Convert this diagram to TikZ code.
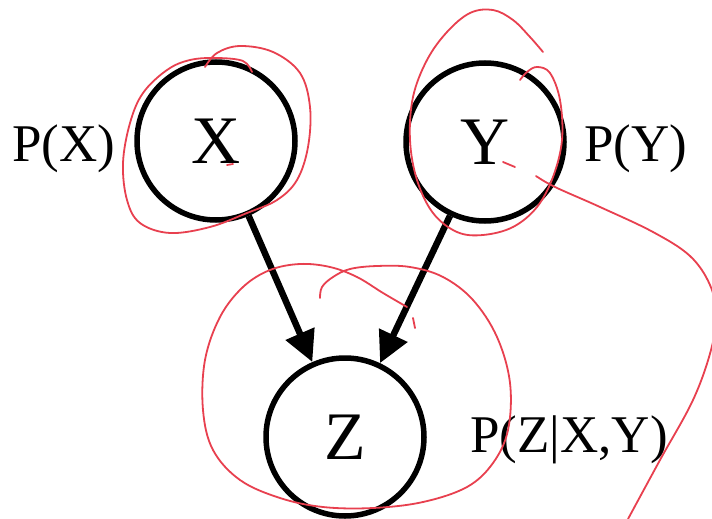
\documentclass[tikz,border=0pt]{standalone}
\usepackage{fontspec}
\setmainfont{Liberation Serif}
\usetikzlibrary{arrows.meta}
\definecolor{ink}{HTML}{000000}
\definecolor{pen}{HTML}{E8404F}
\tikzset{
  var/.style={circle,draw=ink,line width=5.5pt,minimum size=158pt,inner sep=0pt,font=\fontsize{68}{74}\selectfont},
  prob/.style={font=\fontsize{53}{58}\selectfont,inner sep=0pt,anchor=base},
  arr/.style={-{Triangle[length=31pt,width=30pt]},draw=ink,line width=6.5pt},
  scribble/.style={draw=pen,line width=1.8pt,line cap=round,line join=round}
}
\begin{document}
\begin{tikzpicture}[x=1pt,y=-1pt]
\useasboundingbox (0,0) rectangle (712,519);
\fill[white] (0,0) rectangle (712,519);
% variables and their distributions
\node[var] (X) at (216,141) {X};
\node[var] (Y) at (485,142) {Y};
\node[var] (Z) at (345,437) {Z};
\node[prob] (PX) at (64,161) {P(X)};
\node[prob] (PY) at (636,161) {P(Y)};
\node[prob] (PZ) at (569,452) {P(Z|X,Y)};
\draw[arr] (X) -- (Z);
\draw[arr] (Y) -- (Z);
% red pen marks
\draw[scribble] plot[smooth,tension=0.6] coordinates {(205,67) (217,53) (240,46) (273,52) (300,73) (310,107) (308,147) (297,180) (277,200) (247,213) (210,227) (170,233) (140,223) (127,200) (123,163) (130,123) (143,93) (167,70) (190,60) (217,58) (243,61) (252,72)};
\draw[scribble] (227,165) -- (233,164);
\draw[scribble] plot[smooth,tension=0.6] coordinates {(543,52) (530,37) (513,20) (493,10) (470,13) (447,32) (427,60) (413,97) (410,140) (417,180) (433,213) (457,232) (483,235) (513,227) (537,207) (553,177) (562,140) (560,100) (550,73) (537,67) (527,72) (520,80)};
\draw[scribble] (503,162) -- (515,167);
\draw[scribble] plot[smooth,tension=0.6] coordinates {(536,176) (555,187) (600,207) (653,232) (690,256) (710,285) (716,315) (711,350) (693,400) (660,460) (628,519)};
\draw[scribble] plot[smooth,tension=0.6] coordinates {(320,298) (322,287) (333,277) (350,269) (377,266) (410,267) (443,277) (473,300) (497,337) (510,383) (508,430) (493,463) (467,487) (423,502) (373,508) (323,507) (280,498) (240,480) (213,450) (203,410) (205,360) (220,317) (243,287) (270,270) (300,264) (330,267) (357,277) (383,293) (407,307)};
\draw[scribble] (413,318) -- (415,328);
\end{tikzpicture}
\end{document}
